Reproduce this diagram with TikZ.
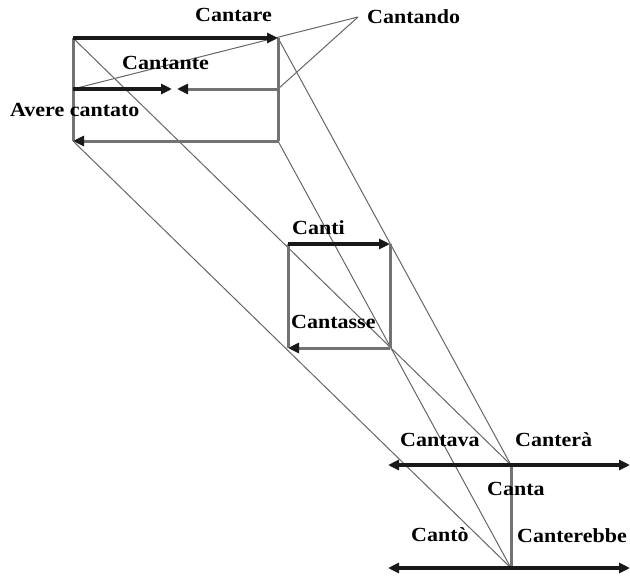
\documentclass[tikz,border=0pt]{standalone}
\usepackage{fontspec}
\setmainfont[FakeStretch=1.1]{Liberation Serif}
\usetikzlibrary{arrows.meta}
\begin{document}
\begin{tikzpicture}[x=1pt,y=-1pt,
  lab/.style={font=\fontsize{20}{21}\selectfont\bfseries, inner sep=0pt, anchor=base west},
  thin line/.style={draw=black!60, line width=1pt},
  gray line/.style={draw=black!55, line width=3pt},
  black line/.style={draw=black!90, line width=3.4pt},
  tip/.style={-{Triangle[length=11pt,width=10pt,fill=black!90,color=black!90]}},
  tips/.style={{Triangle[length=11pt,width=10pt,fill=black!90,color=black!90]}-{Triangle[length=11pt,width=10pt,fill=black!90,color=black!90]}}]
\useasboundingbox (0,0) rectangle (630,576);
% coordinates
\coordinate (A1) at (73,38);  \coordinate (A2) at (278,38);
\coordinate (B1) at (73,89);  \coordinate (B2) at (278,89);
\coordinate (C1) at (73,141); \coordinate (C2) at (278,141);
\coordinate (Bm1) at (172,89); \coordinate (Bm2) at (177,89);
\coordinate (M1) at (288,244); \coordinate (M2) at (390,244);
\coordinate (N1) at (288,348); \coordinate (N2) at (390,348);
\coordinate (P) at (511,465); \coordinate (Q) at (511,568);
\coordinate (PL) at (388,465); \coordinate (PR) at (630,465);
\coordinate (QL) at (388,568); \coordinate (QR) at (630,568);
\coordinate (K) at (358,17);
% thin diagonals
\draw[thin line] (B1) -- (K);
\draw[thin line] (B2) -- (K);
\draw[thin line] (A1) -- (P);
\draw[thin line] (A2) -- (P);
\draw[thin line] (C1) -- (Q);
\draw[thin line] (C2) -- (Q);
% top rectangle
\draw[gray line] (A1) -- (C1);
\draw[gray line] (A2) -- (C2);
\draw[gray line,tip] (C2) -- (C1);
\draw[gray line,tip] (B2) -- (Bm2);
\draw[black line,tip] (B1) -- (Bm1);
\draw[black line,tip] (A1) -- (A2);
% middle rectangle
\draw[gray line] (M1) -- (N1);
\draw[gray line] (M2) -- (N2);
\draw[gray line,tip] (N2) -- (N1);
\draw[black line,tip] (M1) -- (M2);
% bottom
\draw[gray line] (P) -- (Q);
\draw[black line,tips] (PL) -- (PR);
\draw[black line,tips] (QL) -- (QR);
% labels
\node[lab] (lcantare) at (195,21) {Cantare};
\node[lab] (lcantando) at (367,23) {Cantando};
\node[lab] (lcantante) at (122,69) {Cantante};
\node[lab] (lavere) at (10,116) {Avere cantato};
\node[lab] (lcanti) at (292,234) {Canti};
\node[lab] (lcantasse) at (291,328) {Cantasse};
\node[lab] (lcantava) at (400,446) {Cantava};
\node[lab] (lcantera) at (515,446) {Canterà};
\node[lab] (lcanta) at (487,495) {Canta};
\node[lab] (lcanto) at (411,541) {Cantò};
\node[lab] (lcanterebbe) at (517,542) {Canterebbe};
\end{tikzpicture}
\end{document}
